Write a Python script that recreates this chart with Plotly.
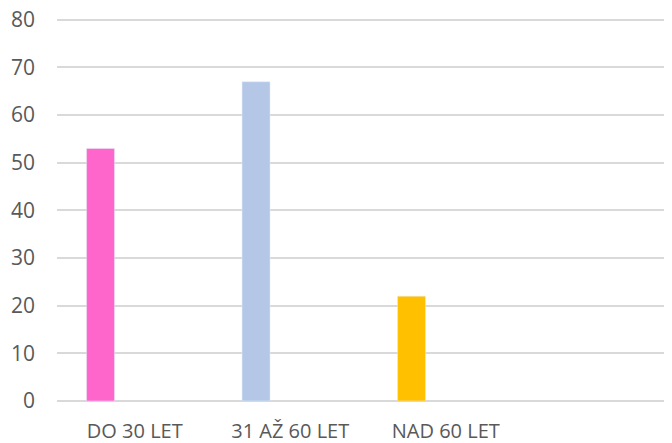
import plotly.graph_objects as go

categories = ["DO 30 LET", "31 AŽ 60 LET", "NAD 60 LET"]
values = [53, 67, 22]
colors = ["#FF66CC", "#B4C7E7", "#FFC000"]
y_ticks = [0, 10, 20, 30, 40, 50, 60, 70, 80]

fig = go.Figure()
fig.add_trace(go.Bar(x=categories, y=values,
                     marker_color=colors,
                     width=0.18, offset=-0.31,
                     showlegend=False))

# the page body has an 8px margin, so the figure is 8px smaller than the window
fig.update_layout(width=664, height=435,
                  margin=dict(l=49, r=0, t=7, b=42),
                  plot_bgcolor="white", paper_bgcolor="white",
                  font=dict(family="Open Sans", size=20, color="#595959"),
                  xaxis=dict(type="category", range=[-0.5, 3.455],
                             showgrid=False, ticks="", showline=False,
                             automargin=False, ticklabelstandoff=16,
                             ticklabeloverflow="allow",
                             tickfont=dict(size=20)),
                  yaxis=dict(range=[0, 81], tickvals=y_ticks,
                             showgrid=True, gridcolor="#d9d9d9", gridwidth=1.5,
                             zeroline=True, zerolinecolor="#d9d9d9",
                             zerolinewidth=1.5, ticks="", automargin=False,
                             ticklabelstandoff=21,
                             ticklabeloverflow="allow",
                             tickfont=dict(size=21)))

fig.write_html("out.html")
